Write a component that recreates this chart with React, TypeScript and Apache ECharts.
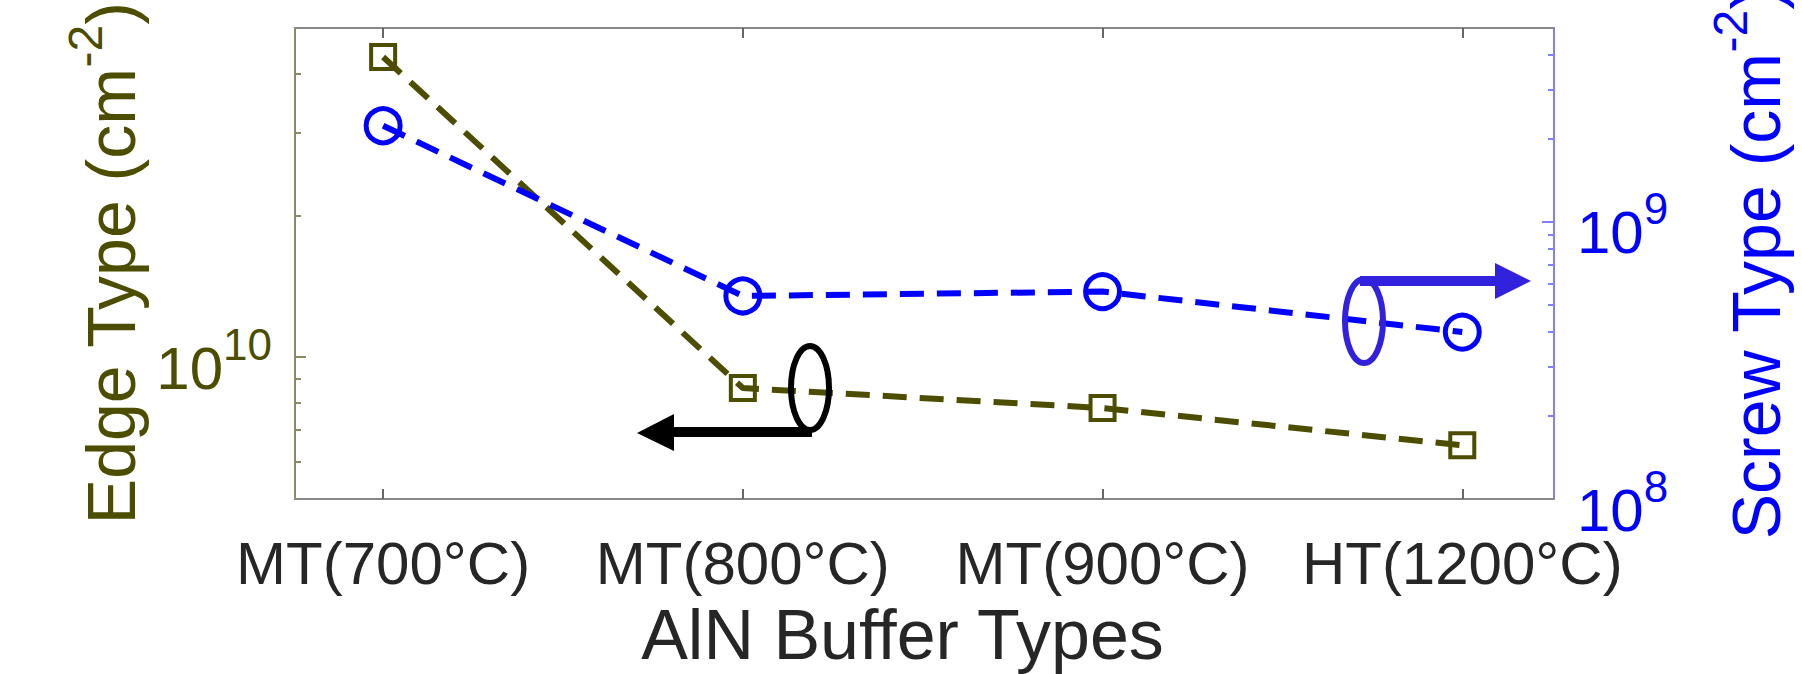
import React, { useEffect, useRef } from "react";
import * as echarts from "echarts";

const categories = ["MT(700°C)", "MT(800°C)", "MT(900°C)", "HT(1200°C)"];
const edgeDensity = [4.34e10, 8.6e9, 7.8e9, 6.5e9];
const screwDensity = [2.22e9, 5.4e8, 5.6e8, 4.0e8];

const edgeRange = [5e9, 5e10];
const screwRange = [1e8, 5e9];
const edgeLabelTicks = [1e10];
const edgeMinorTicks = [6e9, 7e9, 8e9, 9e9, 2e10, 3e10, 4e10];
const screwLabelTicks = [1e8, 1e9];
const screwMajorTicks = [1e9];
const screwMinorTicks = [2e8, 3e8, 4e8, 5e8, 6e8, 7e8, 8e8, 9e8, 2e9, 3e9, 4e9];
const xTicks = [0, 1, 2, 3];

const OLIVE = "#4d4d00";
const OLIVE_AXIS = "#8a8a66";
const BLUE = "#0000ff";
const BLUE_AXIS = "#8080ff";
const ANNOT_BLUE = "#3322dd";
const GRAY = "#888888";
const FONT = "Liberation Sans, Arial, sans-serif";

function powLabel(color: string) {
  return {
    b: { fontSize: 60, lineHeight: 60, padding: [22, 0, 0, 0], color, fontFamily: FONT },
    s: { fontSize: 44, lineHeight: 44, padding: [0, 0, 26, 0], color, fontFamily: FONT },
  };
}
function titleRich(color: string) {
  return {
    a: { fontSize: 68, lineHeight: 68, padding: [24, 0, 0, 0], color, fontFamily: FONT },
    s: { fontSize: 48, lineHeight: 48, padding: [0, 0, 28, 0], color, fontFamily: FONT },
  };
}
const powFormatter = (v: number) => `{b|10}{s|${Math.round(Math.log10(v))}}`;

export default function App() {
  const ref = useRef<HTMLDivElement>(null);
  useEffect(() => {
    document.body.style.margin = "0";
    const chart = echarts.init(ref.current!, null, { renderer: "svg" });
    const xBase = {
      type: "value" as const,
      min: -0.245,
      max: 3.255,
      splitLine: { show: false },
      axisLine: { onZero: false, lineStyle: { color: GRAY, width: 2 } },
      axisTick: { inside: true, length: 10, customValues: xTicks, lineStyle: { color: "#666", width: 2 } },
    };
    const yLogBase = (range: number[], position: "left" | "right") => ({
      type: "log" as const,
      min: range[0],
      max: range[1],
      position,
      splitLine: { show: false },
    });
    chart.setOption({
      animation: false,
      backgroundColor: "#ffffff",
      grid: { left: 295, right: 248, top: 28, bottom: 175, containLabel: false, outerBoundsMode: "none" },
      xAxis: [
        {
          ...xBase,
          position: "bottom",
          axisLabel: {
            customValues: xTicks,
            formatter: (v: number) => categories[Math.round(v)],
            fontSize: 60,
            color: "#262626",
            fontFamily: FONT,
            margin: 34,
          },
          name: "AlN Buffer Types",
          nameLocation: "middle",
          nameGap: 103,
          nameTextStyle: { fontSize: 70, lineHeight: 66, color: "#262626", fontFamily: FONT, padding: [0, 44, 0, 0] },
        },
        {
          ...xBase,
          position: "top",
          axisLabel: { show: false },
        },
      ],
      yAxis: [
        {
          ...yLogBase(edgeRange, "left"),
          axisLine: { show: true, onZero: false, lineStyle: { color: OLIVE_AXIS, width: 2 } },
          axisTick: { show: true, inside: true, length: 11, customValues: edgeLabelTicks, lineStyle: { color: OLIVE_AXIS, width: 2 } },
          axisLabel: { customValues: edgeLabelTicks, formatter: powFormatter, margin: 23, rich: powLabel(OLIVE) },
          name: "{a|Edge Type (cm}{s|-2}{a|)}",
          nameLocation: "middle",
          nameRotate: 90,
          nameGap: 128,
          nameTextStyle: { rich: titleRich(OLIVE) },
        },
        {
          ...yLogBase(screwRange, "right"),
          axisLine: { show: true, onZero: false, lineStyle: { color: BLUE_AXIS, width: 2 } },
          axisTick: { show: true, inside: true, length: 12, customValues: screwMajorTicks, lineStyle: { color: BLUE_AXIS, width: 2 } },
          axisLabel: { customValues: screwLabelTicks, formatter: powFormatter, margin: 23, rich: powLabel(BLUE) },
          name: "{a|Screw Type (cm}{s|-2}{a|)}",
          nameLocation: "middle",
          nameRotate: 90,
          nameGap: 156,
          nameTextStyle: { rich: titleRich(BLUE) },
        },
        {
          ...yLogBase(edgeRange, "left"),
          axisLine: { show: false, onZero: false },
          axisTick: { show: true, inside: true, length: 6, customValues: edgeMinorTicks, lineStyle: { color: OLIVE_AXIS, width: 2 } },
          axisLabel: { show: false },
        },
        {
          ...yLogBase(screwRange, "right"),
          axisLine: { show: false, onZero: false },
          axisTick: { show: true, inside: true, length: 6, customValues: screwMinorTicks, lineStyle: { color: BLUE_AXIS, width: 2 } },
          axisLabel: { show: false },
        },
      ],
      series: [
        {
          name: "Edge Type",
          type: "line",
          xAxisIndex: 0,
          yAxisIndex: 0,
          data: edgeDensity.map((v, i) => [i, v]),
          symbol: "rect",
          symbolSize: 24,
          itemStyle: { color: "rgba(0,0,0,0)", borderColor: OLIVE, borderWidth: 4 },
          lineStyle: { color: OLIVE, width: 6, type: [24, 13] },
          z: 3,
        },
        {
          name: "Screw Type",
          type: "line",
          xAxisIndex: 0,
          yAxisIndex: 1,
          data: screwDensity.map((v, i) => [i, v]),
          symbol: "circle",
          symbolSize: 34,
          itemStyle: { color: "rgba(0,0,0,0)", borderColor: BLUE, borderWidth: 5 },
          lineStyle: { color: BLUE, width: 6, type: [24, 13] },
          z: 3,
        },
      ],
      graphic: [
        { type: "ellipse", shape: { cx: 810, cy: 388, rx: 19, ry: 42 }, style: { fill: "none", stroke: "#000", lineWidth: 6 }, z: 10 },
        { type: "line", shape: { x1: 812, y1: 432, x2: 668, y2: 432 }, style: { stroke: "#000", lineWidth: 10 }, z: 10 },
        { type: "polygon", shape: { points: [[637, 433], [674, 414], [674, 451]] }, style: { fill: "#000" }, z: 10 },
        { type: "ellipse", shape: { cx: 1364, cy: 321, rx: 19, ry: 42 }, style: { fill: "none", stroke: ANNOT_BLUE, lineWidth: 6 }, z: 10 },
        { type: "line", shape: { x1: 1360, y1: 281, x2: 1500, y2: 281 }, style: { stroke: ANNOT_BLUE, lineWidth: 10 }, z: 10 },
        { type: "polygon", shape: { points: [[1531, 281], [1495, 263], [1495, 299]] }, style: { fill: ANNOT_BLUE }, z: 10 },
      ],
    });
    return () => chart.dispose();
  }, []);
  return <div ref={ref} style={{ width: 1802, height: 674 }} />;
}
